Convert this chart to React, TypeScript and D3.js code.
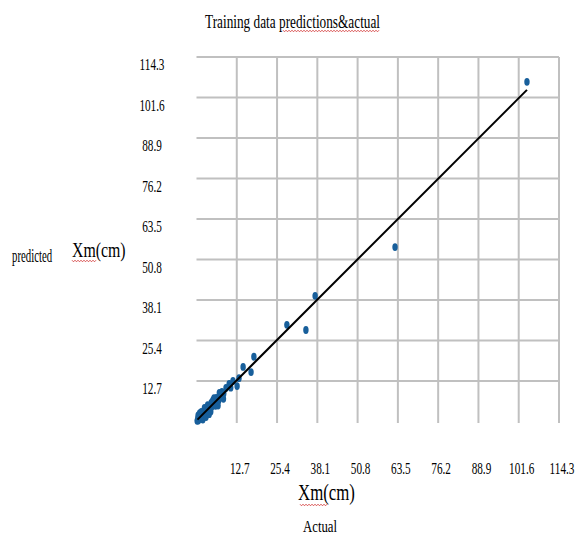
import React from "react";
import * as d3 from "d3";

const tickValues = [12.7, 25.4, 38.1, 50.8, 63.5, 76.2, 88.9, 101.6, 114.3];
const tickLabels = ["12.7", "25.4", "38.1", "50.8", "63.5", "76.2", "88.9", "101.6", "114.3"];

const actual = [
  0.2, 0.4, 0.6, 0.8, 1.1, 1.3, 1.6, 1.9, 2.1, 2.3, 2.7, 2.9, 3.3, 3.6, 3.9, 4.2, 4.6, 4.9,
  5.2, 5.6, 6.2, 6.5, 7.0, 7.4, 7.7, 8.0, 8.6, 9.3, 10.3, 10.8, 11.5, 12.8, 13.4, 14.7, 17.2,
  18.1, 28.5, 34.5, 37.4, 62.6, 104.2,
  1.0, 2.0, 3.0, 4.0, 2.5, 5.5, 6.8, 4.5, 8.5, 1.5, 3.5, 0.5, 6.0, 7.2, 5.0,
];
const predicted = [
  0.2, 0.9, 0.3, 1.3, 1.7, 0.8, 1.4, 2.4, 2.7, 1.8, 3.6, 2.5, 3.0, 4.5, 3.4, 4.0, 5.8, 4.7,
  6.7, 5.5, 7.4, 6.3, 6.6, 8.6, 7.5, 9.3, 8.8, 10.5, 11.8, 10.6, 12.7, 11.1, 13.6, 17.1, 15.5,
  20.3, 30.3, 28.7, 39.4, 54.7, 106.5,
  2.6, 0.6, 1.4, 2.3, 4.3, 7.3, 5.0, 3.1, 7.1, 3.0, 5.1, 1.9, 4.9, 9.0, 6.2,
];

const trendX = [0.3, 104.2];
const trendY = [0.6, 104.0];

const W = 581;
const H = 536;

function wavy(x0: number, x1: number, y: number) {
  const pts: [number, number][] = [];
  let k = 0;
  for (let x = x0; x <= x1; x += 1.5) {
    pts.push([x, y + (k % 2 === 0 ? -0.8 : 0.8)]);
    k++;
  }
  return d3.line()(pts) || "";
}

export default function App() {
  const x = d3.scaleLinear().domain([0, 114.3]).range([196.5, 559]);
  const y = d3.scaleLinear().domain([0, 114.3]).range([421.5, 57]);
  const font = "'Liberation Serif', 'Times New Roman', serif";
  const grid = "#c0c0c0";
  const lineGen = d3
    .line<number>()
    .x((d) => x(d))
    .y((_, i) => y(trendY[i]));

  const sq = 0.66;
  const T = (props: {
    x: number;
    y: number;
    size: number;
    s?: number;
    anchor?: string;
    children: React.ReactNode;
  }) => (
    <text
      transform={`translate(${props.x},${props.y}) scale(${props.s ?? sq},1)`}
      fontFamily={font}
      fontSize={props.size}
      textAnchor={props.anchor ?? "start"}
      fill="#000"
    >
      {props.children}
    </text>
  );

  return (
    <svg
      width={W}
      height={H}
      style={{ position: "absolute", left: 0, top: 0, background: "#fff" }}
    >
      <rect width={W} height={H} fill="#fff" />
      {/* gridlines */}
      {tickValues.map((v) => (
        <line
          key={"h" + v}
          x1={x(0)}
          x2={x(114.3)}
          y1={y(v)}
          y2={y(v)}
          stroke={grid}
          strokeWidth={2}
        />
      ))}
      {tickValues.map((v) => (
        <line
          key={"v" + v}
          x1={x(v)}
          x2={x(v)}
          y1={y(114.3)}
          y2={y(0) + 1.5}
          stroke={grid}
          strokeWidth={2}
        />
      ))}
      {/* points */}
      {actual.map((a, i) => (
        <ellipse
          key={"p" + i}
          cx={x(a)}
          cy={y(predicted[i])}
          rx={2.7}
          ry={3.9}
          fill="#185f9b"
        />
      ))}
      {/* trendline */}
      <path d={lineGen(trendX) || ""} stroke="#000" strokeWidth={2} fill="none" />

      {/* y tick labels */}
      {tickValues.map((v, i) => (
        <T key={"yl" + v} x={152} y={y(v) + 13} size={17} anchor="middle">
          {tickLabels[i]}
        </T>
      ))}
      {/* x tick labels */}
      {tickValues.map((v, i) => (
        <T key={"xl" + v} x={x(v) + 3} y={474} size={17} anchor="middle">
          {tickLabels[i]}
        </T>
      ))}

      {/* title */}
      <T x={205} y={28} size={19} s={0.7}>
        Training data predictions&amp;actual
      </T>
      <path d={wavy(283, 380, 31)} stroke="#d03030" strokeWidth={0.8} fill="none" />

      {/* y axis title */}
      <T x={12} y={262} size={18} s={0.6}>
        predicted
      </T>
      <T x={72} y={257} size={22} s={0.72}>
        Xm(cm)
      </T>
      <path d={wavy(72, 97, 261)} stroke="#d03030" strokeWidth={0.8} fill="none" />

      {/* x axis title */}
      <T x={298} y={500} size={24} s={0.7}>
        Xm(cm)
      </T>
      <path d={wavy(300, 327, 505)} stroke="#d03030" strokeWidth={0.8} fill="none" />
      <T x={303} y={532} size={16} s={0.8}>
        Actual
      </T>
    </svg>
  );
}
